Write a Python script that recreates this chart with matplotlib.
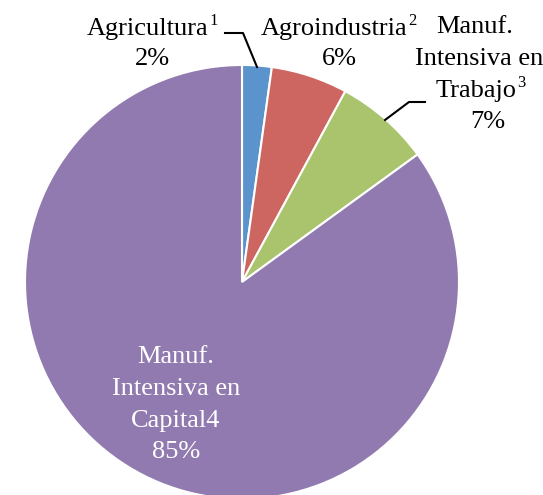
import matplotlib
matplotlib.use("Agg")
import matplotlib.pyplot as plt

categories = ["Agricultura", "Agroindustria", "Manuf. Intensiva en Trabajo", "Manuf. Intensiva en Capital"]
values = [2.2, 5.7, 7.1, 85.0]
pct_labels = ["2%", "6%", "7%", "85%"]
colors = ["#5B93CC", "#CD6660", "#A9C46C", "#917AB0"]

FAM = 'Liberation Serif'

W, H = 543, 495
fig = plt.figure(figsize=(W / 100, H / 100), dpi=100)
ax = fig.add_axes([0, 0, 1, 1])

def Y(yp):
    return H - yp

cx, cy, r = 242, 282, 217
ax.pie(values, colors=colors, startangle=90, counterclock=False,
       center=(cx, Y(cy)), radius=r, frame=True,
       wedgeprops=dict(edgecolor='white', linewidth=1.5))
ax.set_xlim(0, W)
ax.set_ylim(0, H)
ax.set_aspect('equal')
ax.axis('off')

fs = 19
def T(x, y, s, sup=None, **kw):
    t = ax.text(x, Y(y), s, ha='center', va='baseline', fontsize=fs, family=FAM, **kw)
    if sup:
        ax.annotate(sup, xy=(1, 0), xycoords=t, xytext=(0.3, 10.5), textcoords='offset points',
                    ha='left', va='baseline', fontsize=12, family=FAM, **kw)
    return t

T(148, 35, categories[0], sup="1")
T(152, 65, pct_labels[0])
ax.plot([225, 243, 257], [Y(33), Y(33), Y(67)], color='black', lw=1.5)

T(334.5, 35, categories[1], sup="2")
T(339.5, 65, pct_labels[1])

T(475, 33, "Manuf.")
T(479.5, 65, "Intensiva en")
T(476, 97, "Trabajo", sup="3")
T(487.5, 128, pct_labels[2])
ax.plot([385, 409, 425], [Y(120), Y(102), Y(102)], color='black', lw=1.5)

for i, (line, yb) in enumerate(zip(["Manuf.", "Intensiva en", "Capital4", pct_labels[3]],
                                  [363, 395, 427, 458])):
    T(176, yb, line, color='white')

fig.savefig("out.png", dpi=100)
